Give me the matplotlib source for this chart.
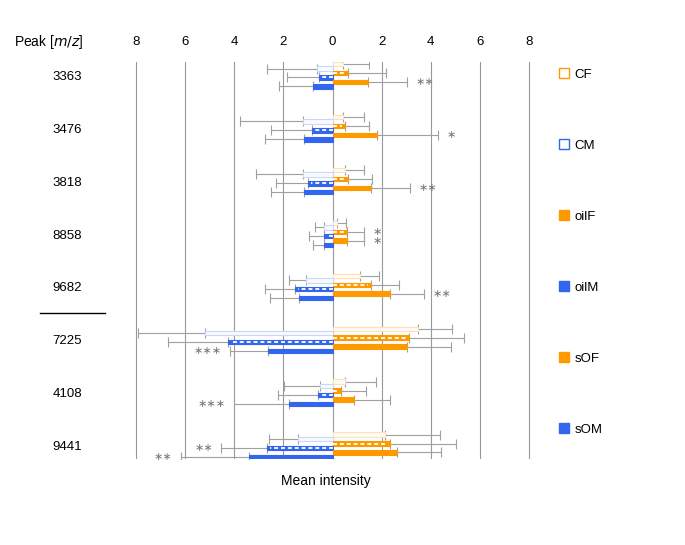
import numpy as np
import matplotlib.pyplot as plt
from matplotlib.lines import Line2D

plt.rcParams['font.family'] = ['Liberation Sans', 'DejaVu Sans']

peaks = ['3363', '3476', '3818', '8858', '9682', '7225', '4108', '9441']
series = ['CF', 'CM', 'oilF', 'oilM', 'sOF', 'sOM']

# mean intensity (males drawn to the left as negatives)
cf_mean = [0.41, 0.41, 0.49, 0.20, 1.10, 3.47, 0.49, 2.15]
cm_mean = [0.64, 1.22, 1.20, 0.35, 1.06, 5.18, 0.52, 1.39]
oilf_mean = [0.63, 0.52, 0.63, 0.60, 1.56, 3.13, 0.34, 2.33]
oilm_mean = [0.53, 0.82, 0.98, 0.33, 1.51, 4.24, 0.61, 2.67]
sof_mean = [1.44, 1.81, 1.55, 0.60, 2.33, 3.05, 0.87, 2.64]
som_mean = [0.78, 1.16, 1.17, 0.33, 1.36, 2.63, 1.78, 3.39]

# standard deviations (one-sided whiskers)
cf_sd = [1.06, 0.86, 0.78, 0.36, 0.79, 1.39, 1.27, 2.23]
cm_sd = [2.01, 2.55, 1.90, 0.38, 0.70, 2.74, 1.45, 1.21]
oilf_sd = [1.53, 0.95, 0.96, 0.67, 1.15, 2.22, 1.01, 2.69]
oilm_sd = [1.31, 1.67, 1.31, 0.61, 1.25, 2.44, 1.62, 1.85]
sof_sd = [1.58, 2.49, 1.61, 0.67, 1.38, 1.77, 1.46, 1.77]
som_sd = [1.38, 1.57, 1.32, 0.45, 1.20, 1.55, 2.21, 2.77]

# significance marks: (peak index, series index, label)
marks = [(0, 4, '∗∗'), (1, 4, '∗'), (2, 4, '∗∗'), (3, 2, '∗'), (3, 4, '∗'),
         (4, 4, '∗∗'), (5, 5, '∗∗∗'), (6, 5, '∗∗∗'), (7, 3, '∗∗'), (7, 5, '∗∗')]

means = [cf_mean, cm_mean, oilf_mean, oilm_mean, sof_mean, som_mean]
sds = [cf_sd, cm_sd, oilf_sd, oilm_sd, sof_sd, som_sd]
sign = [1, -1, 1, -1, 1, -1]

orange = '#ff9900'
blue = '#3366ee'
face = ['#fffaf2', '#f8faff', orange, blue, orange, blue]
edge = ['#fbe2bd', '#cbd7fa', orange, blue, orange, blue]

fig = plt.figure(figsize=(6.85, 5.45), dpi=100)
ax = fig.add_axes([133.5 / 685, 1 - 459 / 545, 398 / 685, 397 / 545])

y = np.arange(len(peaks))
h = 0.084

for k in range(6):
    yy = y + (k - 2.5) * h
    vals = sign[k] * np.array(means[k])
    sd = np.array(sds[k])
    zero = np.zeros_like(sd)
    xerr = [zero, sd] if sign[k] > 0 else [sd, zero]
    ax.errorbar(vals, yy, xerr=xerr, fmt='none', ecolor='#a0a0a0',
                elinewidth=0.8, capsize=3.4, capthick=0.8, zorder=2)
    ax.barh(yy, vals, height=h, color=face[k], edgecolor=edge[k],
            linewidth=0.8, zorder=3)
    if k in (2, 3):
        # white dashed stripe for oil groups
        ax.hlines(yy, 0, vals - sign[k] * 0.12, colors='white',
                  linestyles=(0, (2.2, 1.6)), linewidth=1.3, zorder=4)

for i, k, txt in marks:
    end = sign[k] * (means[k][i] + sds[k][i])
    yy = y[i] + (k - 2.5) * h
    if sign[k] > 0:
        ax.text(end + 0.35, yy, txt, ha='left', va='center', color='#777777', fontsize=8)
    else:
        ax.text(end - 0.35, yy, txt, ha='right', va='center', color='#777777', fontsize=8)

ax.set_xlim(-8.1, 8.1)
ax.set_ylim(len(peaks) - 0.75, -0.25)
ax.set_xticks(np.arange(-8, 9, 2))
ax.set_xticklabels([str(abs(v)) for v in range(-8, 9, 2)])
ax.xaxis.tick_top()
ax.tick_params(axis='x', length=0, pad=10, labelsize=9.5)
ax.set_yticks(y)
ax.set_yticklabels(peaks)
ax.tick_params(axis='y', length=0, pad=37, labelsize=9.5)
ax.grid(axis='x', color='#999999', linewidth=0.8, zorder=0)
ax.set_axisbelow(True)
for s in ax.spines.values():
    s.set_visible(False)

fig.text(14 / 685, 1 - 42 / 545, r'Peak [$\it{m/z}$]', fontsize=10, va='center', ha='left')
fig.text(326 / 685, 1 - 481 / 545, 'Mean intensity', fontsize=10, va='center', ha='center')
fig.add_artist(Line2D([40 / 685, 105 / 685], [1 - 313 / 545, 1 - 313 / 545],
                      color='black', linewidth=1))

handles = []
for k in range(6):
    handles.append(Line2D([], [], linestyle='none', marker='s', markersize=6.5,
                          markerfacecolor='white' if k < 2 else face[k],
                          markeredgecolor=[orange, blue][k % 2], markeredgewidth=1))
fig.legend(handles, series, loc='upper left', bbox_to_anchor=(552 / 685, 1 - 62 / 545),
           frameon=False, fontsize=9.5, labelspacing=4.45, handlelength=0.8,
           handletextpad=0.4, borderpad=0)

fig.savefig('out.png', dpi=100)
